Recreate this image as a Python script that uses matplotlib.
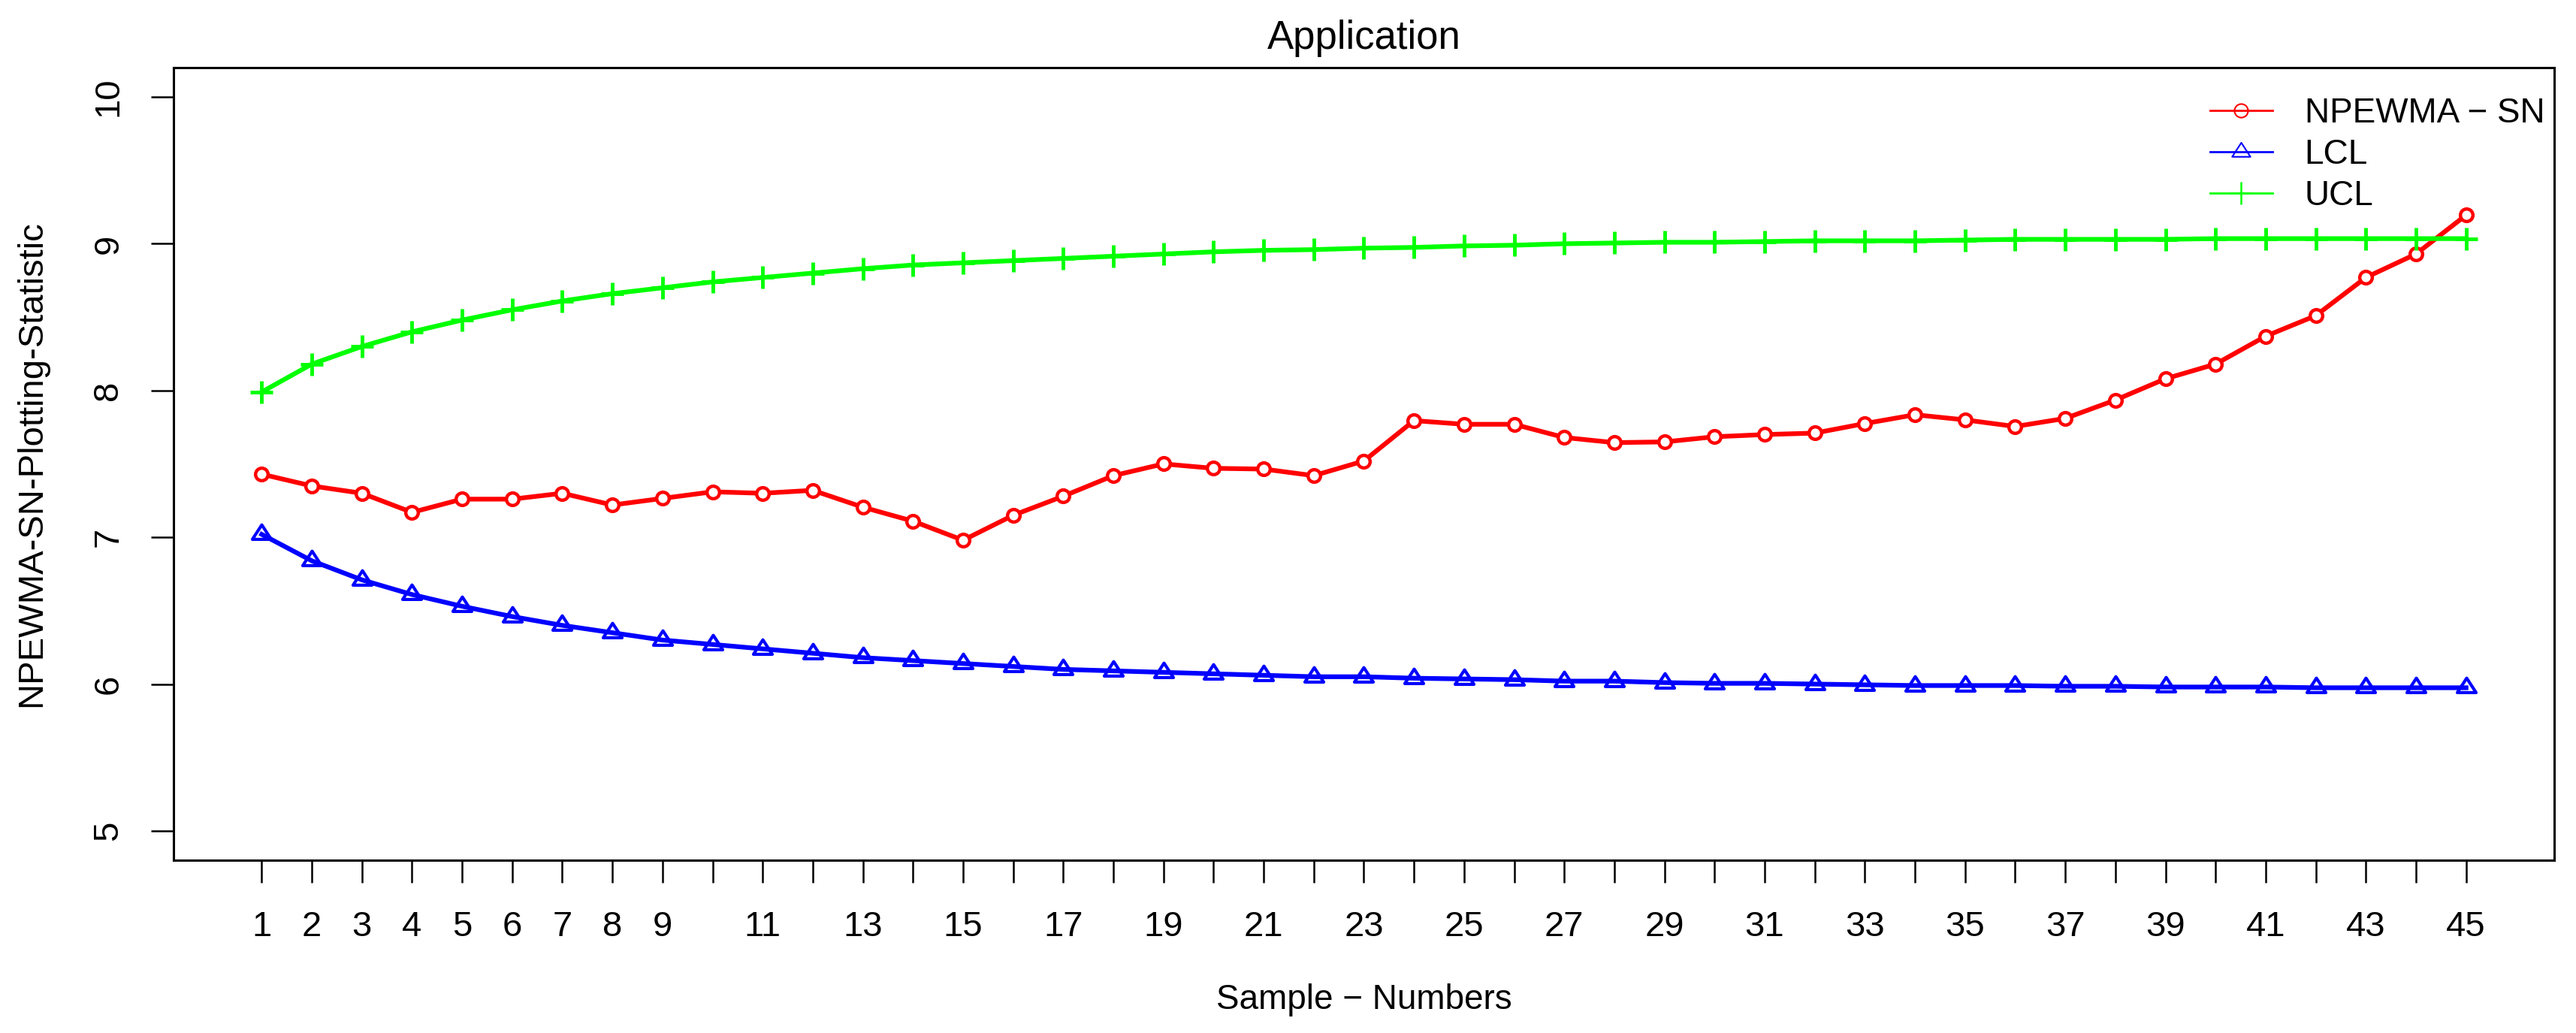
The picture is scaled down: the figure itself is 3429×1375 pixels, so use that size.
import matplotlib
matplotlib.use('Agg')
import matplotlib.pyplot as plt
from matplotlib.lines import Line2D
from matplotlib.path import Path

plt.rcParams['font.family'] = ['Liberation Sans', 'DejaVu Sans']

samples = list(range(1, 46))

npewma_sn = [7.43, 7.35, 7.30, 7.17, 7.26, 7.26, 7.30, 7.22, 7.265, 7.31,
             7.30, 7.32, 7.205, 7.11, 6.98, 7.15, 7.28, 7.42, 7.50, 7.47,
             7.465, 7.42, 7.52, 7.795, 7.77, 7.77, 7.68, 7.645, 7.65, 7.685,
             7.70, 7.71, 7.775, 7.835, 7.80, 7.755, 7.81, 7.935, 8.08, 8.18,
             8.37, 8.51, 8.77, 8.93, 9.195]

lcl = [7.02, 6.84, 6.71, 6.61, 6.53, 6.46, 6.40, 6.35, 6.30, 6.27,
       6.24, 6.21, 6.18, 6.16, 6.14, 6.12, 6.10, 6.09, 6.08, 6.07,
       6.06, 6.05, 6.05, 6.04, 6.035, 6.03, 6.02, 6.02, 6.01, 6.005,
       6.005, 6.00, 5.995, 5.99, 5.99, 5.99, 5.985, 5.985, 5.98, 5.98,
       5.98, 5.975, 5.975, 5.975, 5.975]

ucl = [7.99, 8.18, 8.30, 8.40, 8.48, 8.55, 8.61, 8.66, 8.70, 8.74,
       8.77, 8.80, 8.83, 8.855, 8.87, 8.885, 8.90, 8.915, 8.93, 8.945,
       8.955, 8.96, 8.97, 8.975, 8.985, 8.99, 9.00, 9.005, 9.01, 9.01,
       9.015, 9.02, 9.02, 9.02, 9.025, 9.03, 9.03, 9.03, 9.03, 9.035,
       9.035, 9.035, 9.035, 9.035, 9.035]

xtick_labels = ['1', '2', '3', '4', '5', '6', '7', '8', '9', '',
                '11', '', '13', '', '15', '', '17', '', '19', '',
                '21', '', '23', '', '25', '', '27', '', '29', '',
                '31', '', '33', '', '35', '', '37', '', '39', '',
                '41', '', '43', '', '45']
yticks = [5, 6, 7, 8, 9, 10]

# R style open triangle (pch = 2), centred on its centroid
tri = Path([(0, 0.667), (-0.65, -0.333), (0.65, -0.333), (0, 0.667)],
           closed=True)

fig = plt.figure(figsize=(34.3, 13.75), dpi=100)
ax = fig.add_axes([231 / 3430, 1 - 1145 / 1375,
                   (3400 - 231) / 3430, (1145 - 90) / 1375])

ax.plot(samples, npewma_sn, color='#FF0000', lw=4.5, marker='o', ms=12,
        mfc='white', mec='#FF0000', mew=3.2)
ax.plot(samples, lcl, color='#0000FF', lw=4.5, marker=tri, ms=18.5,
        mfc='none', mec='#0000FF', mew=3)
ax.plot(samples, ucl, color='#00FF00', lw=4.5, marker='+', ms=21,
        mec='#00FF00', mew=3.5)

ax.set_xlim(-0.76, 46.76)
ax.set_ylim(4.8, 10.2)
ax.set_xticks(samples)
ax.set_xticklabels(xtick_labels)
ax.set_yticks(yticks)
ax.set_yticklabels([str(v) for v in yticks], rotation=90, va='center')

for s in ax.spines.values():
    s.set_linewidth(2.2)
ax.tick_params(axis='both', length=21.6, width=1.8, labelsize=34)
ax.tick_params(axis='x', pad=27)
ax.tick_params(axis='y', pad=25)

ax.set_title('Application', fontsize=38, pad=18)
ax.set_xlabel('Sample \u2212 Numbers', fontsize=33)
ax.xaxis.set_label_coords(0.5, -0.155)
ax.set_ylabel('NPEWMA-SN-Plotting-Statistic', fontsize=34, va='center')
ax.yaxis.set_label_coords(-0.0596, 0.5)

handles = [
    Line2D([], [], color='#FF0000', lw=2, marker='o', ms=13, mfc='none',
           mew=1.5),
    Line2D([], [], color='#0000FF', lw=2, marker=tri, ms=18, mfc='none',
           mew=1.5),
    Line2D([], [], color='#00FF00', lw=2, marker='+', ms=22, mew=1.8),
]
ax.legend(handles, ['NPEWMA \u2212 SN', 'LCL', 'UCL'], loc='upper left',
          bbox_to_anchor=(0.8555, 0.963), frameon=False, fontsize=33,
          handlelength=1.8, handletextpad=0.94, labelspacing=0.24,
          borderpad=0, borderaxespad=0)

fig.savefig('out.png', dpi=100)
